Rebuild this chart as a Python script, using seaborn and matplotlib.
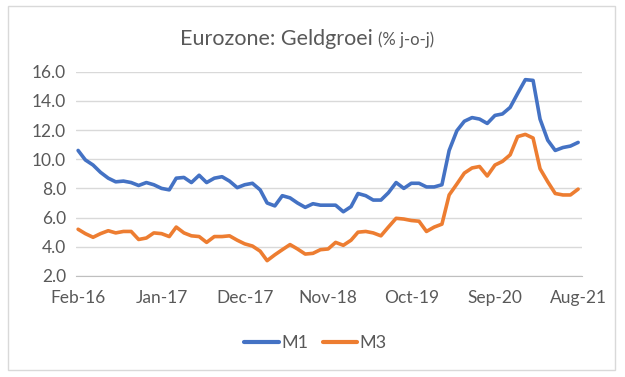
import pandas as pd
import numpy as np
import seaborn as sns
import matplotlib.pyplot as plt
from matplotlib.patches import Rectangle
from matplotlib.lines import Line2D

# monthly data Feb-16 .. Aug-21 (% y-o-y)
months = pd.date_range("2016-02-01", "2021-08-01", freq="MS")
m1 = [10.6, 9.95, 9.6, 9.1, 8.7, 8.45, 8.5, 8.4, 8.2, 8.4,
      8.25, 8.0, 7.9, 8.7, 8.75, 8.4, 8.9, 8.4, 8.7, 8.8,
      8.5, 8.05, 8.25, 8.35, 7.9, 7.0, 6.8, 7.5, 7.35, 7.0,
      6.7, 6.95, 6.85, 6.85, 6.85, 6.4, 6.75, 7.65, 7.5, 7.2,
      7.2, 7.7, 8.4, 8.0, 8.35, 8.35, 8.1, 8.1, 8.25, 10.6,
      11.95, 12.6, 12.85, 12.75, 12.45, 13.0, 13.1, 13.55, 14.5, 15.45,
      15.4, 12.75, 11.3, 10.6, 10.8, 10.9, 11.15]
m3 = [5.2, 4.9, 4.65, 4.9, 5.1, 4.95, 5.05, 5.05, 4.5, 4.6,
      4.95, 4.9, 4.7, 5.35, 4.95, 4.75, 4.7, 4.3, 4.7, 4.7,
      4.75, 4.45, 4.2, 4.05, 3.7, 3.05, 3.45, 3.8, 4.15, 3.85,
      3.5, 3.55, 3.8, 3.85, 4.3, 4.1, 4.45, 5.0, 5.05, 4.95,
      4.75, 5.35, 5.95, 5.9, 5.8, 5.75, 5.05, 5.35, 5.55, 7.55,
      8.3, 9.05, 9.4, 9.5, 8.85, 9.6, 9.85, 10.3, 11.55, 11.7,
      11.45, 9.35, 8.45, 7.65, 7.55, 7.55, 7.95]
series = ["M1", "M3"]
tick_labels = ["Feb-16", "Jan-17", "Dec-17", "Nov-18", "Oct-19", "Sep-20", "Aug-21"]
y_ticks = [2, 4, 6, 8, 10, 12, 14, 16]

df = pd.DataFrame({"month": list(months) * 2,
                   "value": m1 + m3,
                   "series": [series[0]] * len(m1) + [series[1]] * len(m3)})

colors = ["#4472C4", "#ED7D31"]
grey = "#595959"

sns.set_style("white")
plt.rcParams["font.family"] = ["Lato", "DejaVu Sans"]

fig = plt.figure(figsize=(6.25, 3.77), dpi=100)
ax = fig.add_axes([0.121, 0.268, 0.81, 0.542])

sns.lineplot(data=df, x="month", y="value", hue="series", palette=colors,
             linewidth=2.6, ax=ax, legend=False)

ax.set_ylim(2, 16)
ax.set_yticks(y_ticks)
ax.set_yticklabels([f"{v:.1f}" for v in y_ticks], color=grey, fontsize=12.5)
ax.set_xticks(months[::11])
ax.set_xticklabels(tick_labels, color=grey, fontsize=12.5)
ax.set_xlim(months[0] - pd.Timedelta(days=10), months[-1] + pd.Timedelta(days=15))
ax.set_xlabel("")
ax.set_ylabel("")
ax.grid(axis="y", color="#D9D9D9", linewidth=1)
for s in ["top", "right", "left"]:
    ax.spines[s].set_visible(False)
ax.spines["bottom"].set_color("#BFBFBF")
ax.tick_params(axis="x", length=5, color="#BFBFBF", pad=5)
ax.tick_params(axis="y", length=0, pad=7)

# title in two sizes
fig.text(0.596, 0.88, "Eurozone: Geldgroei", ha="right", va="baseline",
         fontsize=15.5, color=grey)
fig.text(0.605, 0.88, "(% j-o-j)", ha="left", va="baseline",
         fontsize=12, color=grey)

handles = [Line2D([], [], color=c, linewidth=3) for c in colors]
fig.legend(handles, series, loc="center", bbox_to_anchor=(0.505, 0.09), ncol=2,
           frameon=False, fontsize=13, handlelength=1.9, columnspacing=0.8,
           handletextpad=0.15, labelcolor=grey)

# chart border
fig.patches.append(Rectangle((0.013, 0.018), 0.971, 0.966, transform=fig.transFigure,
                             fill=False, edgecolor="#D9D9D9", linewidth=1))

plt.savefig("out.png", dpi=100)
